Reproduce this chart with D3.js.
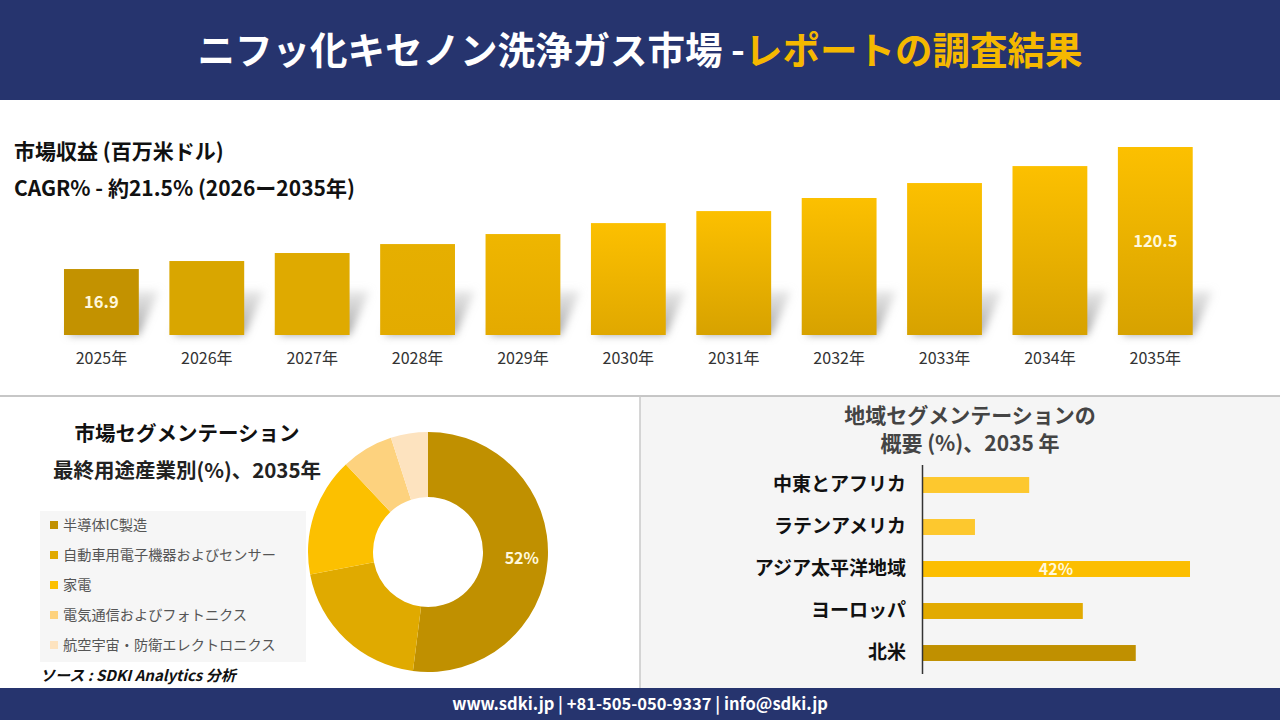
<!DOCTYPE html>
<html>
<head>
<meta charset="utf-8">
<script src="https://cdn.jsdelivr.net/npm/d3@7"></script>
<style>
  body { margin: 0; background: #fff; }
  svg { display: block; font-family: "Noto Sans CJK JP", "Noto Sans", sans-serif; }
</style>
</head>
<body>
<svg id="chart" width="1280" height="720"></svg>
<script>
// market revenue (million USD)
const years = ["2025年", "2026年", "2027年", "2028年", "2029年", "2030年", "2031年", "2032年", "2033年", "2034年", "2035年"];
const revenue = [16.9, 23.7, 30.5, 38.1, 46.6, 55.9, 66.1, 77.2, 89.9, 104.3, 120.5];
const labelledYears = ["2025年", "2035年"];

// end-use industry share 2035
const segLabels = ["半導体IC製造", "自動車用電子機器およびセンサー", "家電", "電気通信およびフォトニクス", "航空宇宙・防衛エレクトロニクス"];
const segShares = [52, 20, 16, 7, 5];

// regional share 2035
const regions = ["中東とアフリカ", "ラテンアメリカ", "アジア太平洋地域", "ヨーロッパ", "北米"];
const regionShares = [16.8, 8.3, 42, 25.2, 33.5];

const barTop = ["#c39200", "#d9a600", "#dfaa00", "#e6af00", "#efb600", "#fcc000", "#fcc000", "#fcc000", "#fcc000", "#fcc000", "#fcc000"];
const barBottom = ["#c39200", "#d9a600", "#dfaa00", "#e3ab00", "#e4aa00", "#e0a800", "#d7a200", "#d7a200", "#d7a200", "#d7a200", "#d7a200"];
const segColors = ["#c09000", "#e0aa00", "#fcc000", "#fdd27e", "#fde3bf"];
const regionColors = ["#fdc82e", "#fdc82e", "#fcbe00", "#e2aa00", "#c09000"];

const navy = "#26346e";
const svg = d3.select("#chart");
const defs = svg.append("defs");

// ---- header ----
svg.append("rect").attr("width", 1280).attr("height", 100).attr("fill", navy);
const title = svg.append("text")
    .attr("x", 640).attr("y", 64)
    .attr("text-anchor", "middle")
    .attr("font-size", 37.5).attr("font-weight", "bold");
title.append("tspan").attr("fill", "#fff").text("ニフッ化キセノン洗浄ガス市場 -");
title.append("tspan").attr("fill", "#f5b800").text("レポートの調査結果");

// ---- revenue block ----
svg.append("text").attr("x", 14).attr("y", 159)
    .attr("font-size", 21).attr("font-weight", "bold").attr("fill", "#111")
    .text("市場収益 (百万米ドル)");
svg.append("text").attr("x", 14).attr("y", 196)
    .attr("font-size", 21).attr("font-weight", "bold").attr("fill", "#111")
    .text("CAGR% - 約21.5% (2026ー2035年)");

const x = d3.scaleBand().domain(years).range([48.7, 1208]).paddingInner(0.29).paddingOuter(0.145);
const y = d3.scaleLinear().domain([-39.1, 120.5]).range([335, 147]);

const blur = defs.append("filter").attr("id", "blur").attr("x", "-50%").attr("y", "-50%").attr("width", "200%").attr("height", "200%");
blur.append("feGaussianBlur").attr("stdDeviation", 4);
const shadowGrad = defs.append("linearGradient").attr("id", "shadowGrad").attr("x1", 0).attr("y1", 1).attr("x2", 0).attr("y2", 0);
shadowGrad.append("stop").attr("offset", "0%").attr("stop-color", "#999").attr("stop-opacity", 0.95);
shadowGrad.append("stop").attr("offset", "100%").attr("stop-color", "#bbb").attr("stop-opacity", 0.35);

years.forEach((yr, i) => {
    const g = defs.append("linearGradient").attr("id", "bar" + i).attr("x1", 0).attr("y1", 0).attr("x2", 0).attr("y2", 1);
    g.append("stop").attr("offset", "0%").attr("stop-color", barTop[i]);
    g.append("stop").attr("offset", "100%").attr("stop-color", barBottom[i]);
});

const barG = svg.append("g");
barG.selectAll(".shadow")
    .data(years)
    .join("path")
    .attr("class", "shadow")
    .attr("fill", "url(#shadowGrad)")
    .attr("filter", "url(#blur)")
    .attr("d", d => {
        const x0 = x(d) + 4, x1 = x(d) + x.bandwidth(), b = y(-39.1);
        return `M${x0},${b} L${x1},${b} L${x1 + 20},${b - 44} L${x0 + 20},${b - 44} Z`;
    });

barG.selectAll(".bar")
    .data(revenue)
    .join("rect")
    .attr("class", "bar")
    .attr("x", (d, i) => x(years[i]))
    .attr("y", d => y(d))
    .attr("width", x.bandwidth())
    .attr("height", d => y(-39.1) - y(d))
    .attr("fill", (d, i) => `url(#bar${i})`);

barG.selectAll(".val")
    .data(revenue.filter((d, i) => labelledYears.includes(years[i])))
    .join("text")
    .attr("class", "val")
    .attr("x", d => x(years[revenue.indexOf(d)]) + x.bandwidth() / 2)
    .attr("y", d => (y(d) + y(-39.1)) / 2 + 6)
    .attr("text-anchor", "middle")
    .attr("font-size", 16.5).attr("font-weight", "bold").attr("fill", "#fff8dc")
    .text(d => d);

const xAxis = svg.append("g")
    .attr("transform", `translate(0,${y(-39.1)})`)
    .call(d3.axisBottom(x).tickSize(0).tickPadding(18));
xAxis.select(".domain").remove();
xAxis.selectAll("text")
    .attr("font-family", "'Noto Sans CJK JP', sans-serif")
    .attr("font-size", 16).attr("fill", "#333");

// ---- panel lines ----
svg.append("rect").attr("x", 640).attr("y", 396).attr("width", 640).attr("height", 292).attr("fill", "#f5f5f5");
svg.append("line").attr("x1", 0).attr("x2", 1280).attr("y1", 396).attr("y2", 396).attr("stroke", "#b5b5b5").attr("stroke-width", 1.5);
svg.append("line").attr("x1", 640).attr("x2", 640).attr("y1", 396).attr("y2", 688).attr("stroke", "#c8c8c8").attr("stroke-width", 1.5);

// ---- segmentation donut ----
svg.append("text").attr("x", 187).attr("y", 441).attr("text-anchor", "middle")
    .attr("font-size", 20.5).attr("font-weight", "bold").attr("fill", "#111")
    .text("市場セグメンテーション");
svg.append("text").attr("x", 187).attr("y", 478).attr("text-anchor", "middle")
    .attr("font-size", 20.5).attr("font-weight", "bold").attr("fill", "#222")
    .text("最終用途産業別(%)、2035年");

const pie = d3.pie().sort(null).value(d => d);
const arc = d3.arc().innerRadius(55).outerRadius(120);
const labelArc = d3.arc().innerRadius(94).outerRadius(94);
const donut = svg.append("g").attr("transform", "translate(428,552)");
const arcs = pie(segShares);
donut.selectAll("path")
    .data(arcs)
    .join("path")
    .attr("d", arc)
    .attr("fill", (d, i) => segColors[i]);
donut.append("text")
    .datum(arcs[0])
    .attr("transform", d => `translate(${labelArc.centroid(d)})`)
    .attr("dy", "0.35em")
    .attr("text-anchor", "middle")
    .attr("font-size", 16).attr("font-weight", "bold").attr("fill", "#fff8dc")
    .text(d => d.data + "%");

const legend = svg.append("g");
legend.append("rect").attr("x", 40).attr("y", 511).attr("width", 266).attr("height", 151).attr("fill", "#f6f6f6");
const ly = d3.scalePoint().domain(segLabels).range([525, 645]);
const items = legend.selectAll(".item")
    .data(segLabels)
    .join("g")
    .attr("class", "item")
    .attr("transform", d => `translate(50,${ly(d)})`);
items.append("rect").attr("x", 0).attr("y", -4).attr("width", 8).attr("height", 8)
    .attr("fill", (d, i) => segColors[i]);
items.append("text").attr("x", 13).attr("dy", "0.35em")
    .attr("font-size", 14.2).attr("fill", "#555")
    .text(d => d);

svg.append("text").attr("x", 40).attr("y", 681)
    .attr("font-size", 15).attr("font-style", "italic").attr("font-weight", "bold").attr("fill", "#111")
    .text("ソース : SDKI Analytics 分析");

// ---- regional bars ----
svg.append("text").attr("x", 970).attr("y", 423).attr("text-anchor", "middle")
    .attr("font-size", 21).attr("font-weight", "bold").attr("fill", "#444")
    .text("地域セグメンテーションの");
svg.append("text").attr("x", 970).attr("y", 451).attr("text-anchor", "middle")
    .attr("font-size", 21).attr("font-weight", "bold").attr("fill", "#444")
    .text("概要 (%)、2035 年");

const rx = d3.scaleLinear().domain([0, 42]).range([922, 1190]);
const ry = d3.scaleBand().domain(regions).range([464.5, 673.5]).paddingInner(0.62).paddingOuter(0.298);

svg.append("g").selectAll("rect")
    .data(regionShares)
    .join("rect")
    .attr("x", rx(0))
    .attr("y", (d, i) => ry(regions[i]))
    .attr("width", d => rx(d) - rx(0))
    .attr("height", ry.bandwidth())
    .attr("fill", (d, i) => regionColors[i]);

svg.append("text")
    .attr("x", (rx(0) + rx(42)) / 2)
    .attr("y", ry("アジア太平洋地域") + ry.bandwidth() / 2)
    .attr("dy", "0.36em")
    .attr("text-anchor", "middle")
    .attr("font-size", 16).attr("font-weight", "bold").attr("fill", "#fff8dc")
    .text("42%");

const yAxis = svg.append("g")
    .attr("transform", `translate(${rx(0)},0)`)
    .call(d3.axisLeft(ry).tickSize(0).tickSizeOuter(0).tickPadding(16));
yAxis.select(".domain").attr("stroke", "#333").attr("stroke-width", 1.5);
yAxis.selectAll("text")
    .attr("font-family", "'Noto Sans CJK JP', sans-serif")
    .attr("font-size", 19).attr("font-weight", "bold").attr("fill", "#111");

// ---- footer ----
svg.append("rect").attr("x", 0).attr("y", 688).attr("width", 1280).attr("height", 32).attr("fill", navy);
svg.append("text").attr("x", 640).attr("y", 710).attr("text-anchor", "middle")
    .attr("font-size", 16.5).attr("font-weight", "bold").attr("fill", "#fff")
    .text("www.sdki.jp | +81-505-050-9337 | info@sdki.jp");
</script>
</body>
</html>
